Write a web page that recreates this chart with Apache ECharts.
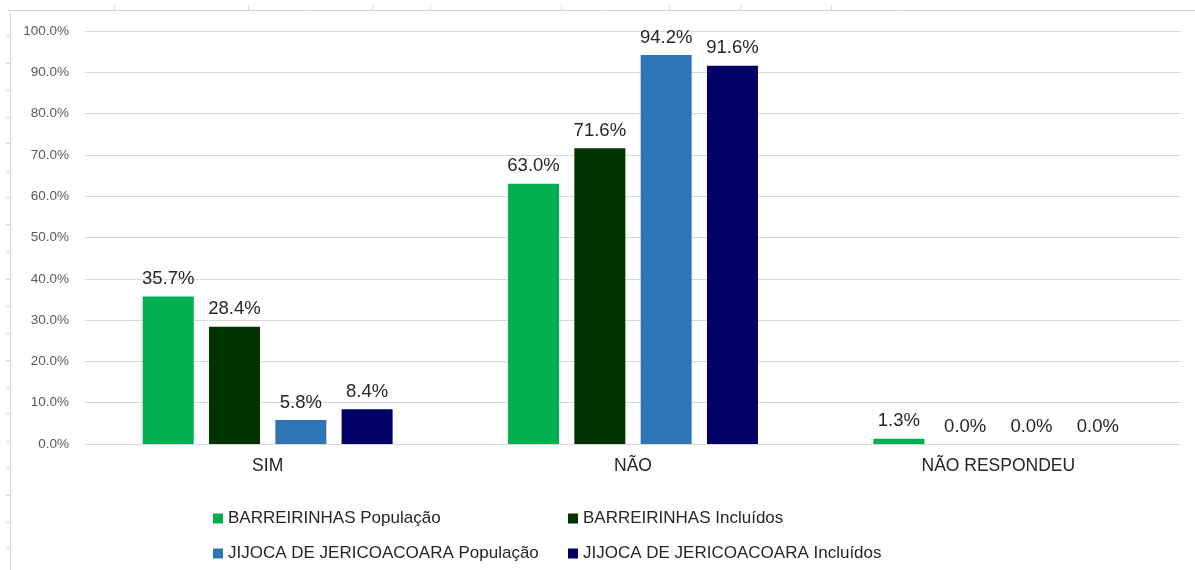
<!DOCTYPE html>
<html>
<head>
<meta charset="utf-8">
<script src="https://cdn.jsdelivr.net/npm/echarts@6/dist/echarts.min.js"></script>
<style>
  html, body { margin: 0; padding: 0; background: #fff; }
  #chart { width: 1195px; height: 570px; }
</style>
</head>
<body>
<div id="chart"></div>
<script>
// categorias e séries
const categories = ['SIM', 'NÃO', 'NÃO RESPONDEU'];
const seriesNames = [
  'BARREIRINHAS População',
  'BARREIRINHAS Incluídos',
  'JIJOCA DE JERICOACOARA População',
  'JIJOCA DE JERICOACOARA Incluídos'
];
const barrPopulacao = [35.7, 63.0, 1.3];
const barrIncluidos = [28.4, 71.6, 0.0];
const jijPopulacao = [5.8, 94.2, 0.0];
const jijIncluidos = [8.4, 91.6, 0.0];
const yTicks = [0, 10, 20, 30, 40, 50, 60, 70, 80, 90, 100];

const colors = ['#00B050', '#003300', '#2E75B6', '#000066'];
const font = 'Liberation Sans';

let chart = echarts.init(document.getElementById('chart'));

// legenda em duas linhas, colunas alinhadas como no Excel
const legendPos = [
  { left: 208, top: 505 },
  { left: 563, top: 505 },
  { left: 208, top: 540 },
  { left: 563, top: 540 }
];

// moldura da planilha (linhas de fundo)
const frame = [
  { type: 'line', shape: { x1: 8, y1: 10.5, x2: 1195, y2: 10.5 }, style: { stroke: '#d9d9d9', lineWidth: 1 } },
  { type: 'line', shape: { x1: 10.5, y1: 12, x2: 10.5, y2: 570 }, style: { stroke: '#d9d9d9', lineWidth: 1 } }
];
[114, 248, 372, 430, 561, 669, 740, 831].forEach(x => {
  frame.push({ type: 'line', shape: { x1: x + 0.5, y1: 5, x2: x + 0.5, y2: 10 }, style: { stroke: '#d9d9d9', lineWidth: 1 } });
});
[36, 63, 90, 117, 143, 171, 197, 224, 252, 279, 306, 333, 360, 387, 413, 441, 467, 495, 522, 548].forEach(y => {
  frame.push({ type: 'line', shape: { x1: 6, y1: y + 0.5, x2: 10, y2: y + 0.5 }, style: { stroke: '#d9d9d9', lineWidth: 1 } });
});

const dataSets = [barrPopulacao, barrIncluidos, jijPopulacao, jijIncluidos];

chart.setOption({
  animation: false,
  backgroundColor: '#fff',
  textStyle: { fontFamily: font },
  graphic: frame,
  legend: seriesNames.map((name, i) => ({
    data: [name],
    left: legendPos[i].left,
    top: legendPos[i].top,
    itemWidth: 10,
    itemHeight: 10,
    icon: 'rect',
    itemGap: 8,
    textStyle: { fontFamily: font, fontSize: 17, color: '#262626' }
  })),
  grid: { left: 85, right: 14, top: 31, bottom: 126 },
  xAxis: {
    type: 'category',
    data: categories,
    axisLine: { show: false },
    axisTick: { show: false },
    axisLabel: { fontFamily: font, fontSize: 17.5, color: '#262626', margin: 13 }
  },
  yAxis: {
    type: 'value',
    min: 0,
    max: 100,
    interval: 10,
    axisLine: { show: false },
    axisTick: { show: false },
    splitLine: { lineStyle: { color: '#d9d9d9', width: 1 } },
    axisLabel: {
      fontFamily: font, fontSize: 13.5, color: '#595959', margin: 16,
      formatter: v => yTicks.includes(v) ? v.toFixed(1) + '%' : ''
    }
  },
  series: seriesNames.map((name, i) => ({
    name: name,
    type: 'bar',
    data: dataSets[i],
    barWidth: 51,
    barGap: '30%',
    itemStyle: { color: colors[i] },
    label: {
      show: true,
      position: 'top',
      distance: 8,
      fontFamily: font,
      fontSize: 18.5,
      color: '#262626',
      formatter: p => p.value.toFixed(1) + '%'
    }
  }))
});
</script>
</body>
</html>
